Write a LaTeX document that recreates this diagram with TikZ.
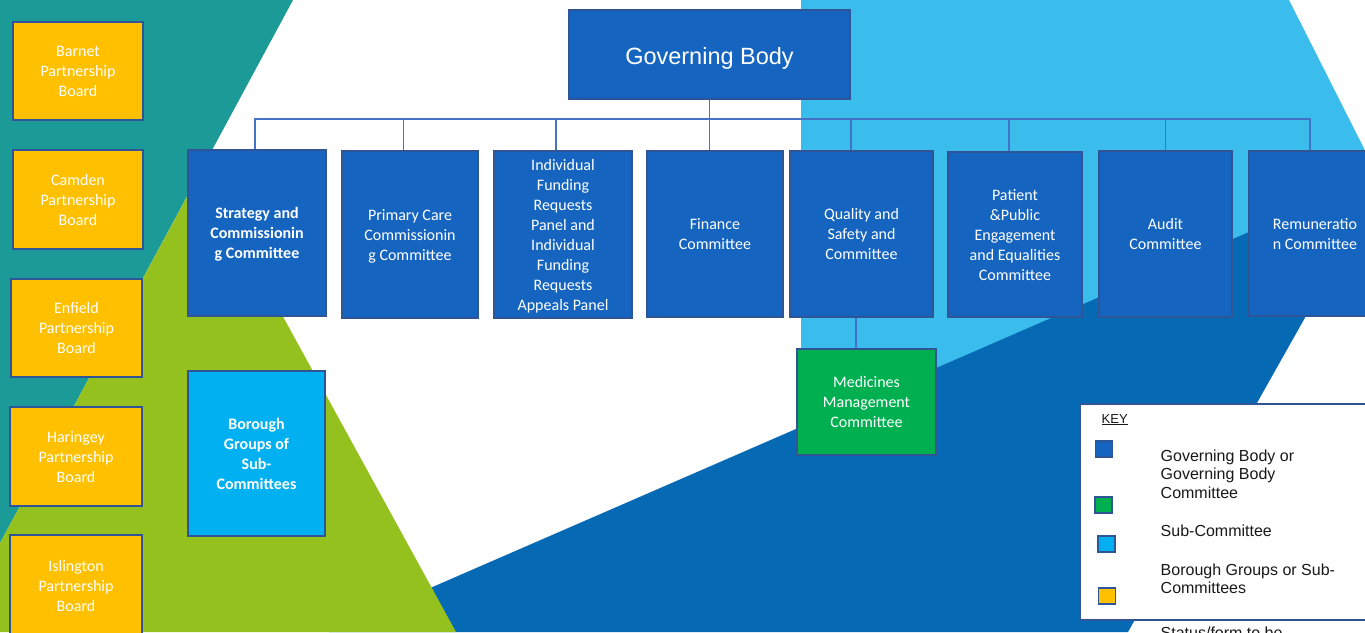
\documentclass[tikz,border=0pt]{standalone}
\usepackage{fontspec}
\setmainfont{Carlito}
\newfontfamily\arialf{Liberation Sans}
\definecolor{teal1}{HTML}{1B9A98}
\definecolor{lime1}{HTML}{95C11F}
\definecolor{sky1}{HTML}{3ABDED}
\definecolor{navy1}{HTML}{0669B3}
\definecolor{boxblue}{HTML}{1565C0}
\definecolor{boxedge}{HTML}{2F5597}
\definecolor{yel}{HTML}{FFC000}
\definecolor{grn}{HTML}{00B050}
\definecolor{cyanb}{HTML}{00B0F0}
\definecolor{conn}{HTML}{4472C4}
\begin{document}
\begin{tikzpicture}[x=1pt,y=-1pt,
  bx/.style={draw=boxedge, line width=2pt, text=white, align=center, inner sep=0pt,
    text depth=0pt, font=\fontsize{16}{20}\selectfont},
  govbox/.style={bx, fill=boxblue},
  yelbox/.style={bx, fill=yel},
  keysq/.style={draw=boxedge, line width=1.6pt, minimum width=17pt, minimum height=16pt, inner sep=0pt},
  keytxt/.style={anchor=base west, inner sep=0pt, font=\arialf\fontsize{16}{18.5}\selectfont, text=black!90},
  cline/.style={draw=conn, line width=1.2pt}]
\useasboundingbox (0,0) rectangle (1365,632);
\clip (0,0) rectangle (1365,632);
% background
\fill[white] (0,0) rectangle (1365,632);
\fill[sky1] (801,0) -- (1289,0) -- (1385,190) -- (1320,300) -- (801,450) -- cycle;
\fill[navy1] (329,632) -- (1387,172) -- (1128,632) -- cycle;
\fill[teal1] (-50,0) -- (293,0) -- (-48,632) -- (-50,632) -- cycle;
\fill[lime1] (202,169) -- (456,632) -- (-48,632) -- cycle;

% partnership boards
\node[yelbox, minimum width=130pt, minimum height=98pt] (barnet) at (78,71) {Barnet\\Partnership\\Board};
\node[yelbox, minimum width=130pt, minimum height=99pt] (camden) at (78,199.5) {Camden\\Partnership\\Board};
\node[yelbox, minimum width=131pt, minimum height=98pt] (enfield) at (76.5,328) {Enfield\\Partnership\\Board};
\node[yelbox, minimum width=132pt, minimum height=99pt] (haringey) at (76,456.5) {Haringey\\Partnership\\Board};
\node[yelbox, minimum width=132pt, minimum height=101pt] (islington) at (76,585.5) {Islington\\Partnership\\Board};

% governing body
\node[govbox, minimum width=281pt, minimum height=89pt, text height=20pt, text depth=0pt,
  font=\arialf\fontsize{23.5}{28}\selectfont] (gb) at (709.5,54.5) {Governing Body};

% committees
\node[govbox, minimum width=138pt, minimum height=166pt, font=\bfseries\fontsize{16}{20}\selectfont] (strat) at (257,233) {Strategy and\\Commissionin\\g Committee};
\node[govbox, minimum width=136pt, minimum height=167pt] (prim) at (410,234.5) {Primary Care\\Commissionin\\g Committee};
\node[govbox, minimum width=138pt, minimum height=167pt] (ifr) at (563,234.5) {Individual\\Funding\\Requests\\Panel and\\Individual\\Funding\\Requests\\Appeals Panel};
\node[govbox, minimum width=136pt, minimum height=166pt] (fin) at (715,234) {Finance\\Committee};
\node[govbox, minimum width=143pt, minimum height=166pt] (qual) at (861.5,234) {Quality and\\Safety and\\Committee};
\node[govbox, minimum width=134pt, minimum height=165pt] (pat) at (1015,234.5) {Patient\\\&Public\\Engagement\\and Equalities\\Committee};
\node[govbox, minimum width=133pt, minimum height=166pt] (aud) at (1165.5,234) {Audit\\Committee};
\node[govbox, minimum width=132pt, minimum height=165pt] (rem) at (1315,233.5) {Remuneratio\\n Committee};

% sub-committees
\node[bx, fill=grn, minimum width=139pt, minimum height=106pt] (med) at (866.5,402) {Medicines\\Management\\Committee};
\node[bx, fill=cyanb, minimum width=137pt, minimum height=165pt, font=\bfseries\fontsize{16}{20}\selectfont] (bor) at (256.5,453.5) {Borough\\Groups of\\Sub-\\Committees};

% connectors
\coordinate (bar) at (709.5,119);
\draw[cline] (gb.south) -- (gb.south |- fin.north);
\draw[cline] ([xshift=-2pt]strat.north) |- (bar);
\draw[cline] ([xshift=-6.5pt]prim.north) |- (bar);
\draw[cline] ([xshift=-7pt]ifr.north) |- (bar);
\draw[cline] ([xshift=-10.5pt]qual.north) |- (bar);
\draw[cline] ([xshift=-6pt]pat.north) |- (bar);
\draw[cline] (aud.north) |- (bar);
\draw[cline] ([xshift=-5pt]rem.north) |- (bar);
\draw[cline] ([xshift=-10.5pt]med.north) -- ([xshift=-10.5pt]med.north |- qual.south);

% key
\node[draw=boxedge, line width=2pt, fill=white, minimum width=319pt, minimum height=216pt, inner sep=0pt] (key) at (1239.5,512) {};
\node[anchor=base west, inner sep=0pt, font=\arialf\fontsize{13}{15}\selectfont, text=black!90] (keyt) at (1101.5,423) {\underline{KEY}};
\node[keysq, fill=boxblue] (k1) at (1104,449) {};
\node[keysq, fill=grn] (k2) at (1103.5,505) {};
\node[keysq, fill=cyanb] (k3) at (1106.5,544) {};
\node[keysq, fill=yel] (k4) at (1107,596) {};
\node[keytxt] (t1) at (1160.5,461) {Governing Body or};
\node[keytxt] (t2) at (1160.5,479.5) {Governing Body};
\node[keytxt] (t3) at (1160.5,498) {Committee};
\node[keytxt] (t4) at (1160.5,536.5) {Sub-Committee};
\node[keytxt] (t5) at (1160.5,575) {Borough Groups or Sub-};
\node[keytxt] (t6) at (1160.5,593.5) {Committees};
\node[keytxt] (t7) at (1160.5,638.5) {Status/form to be};
\end{tikzpicture}
\end{document}
